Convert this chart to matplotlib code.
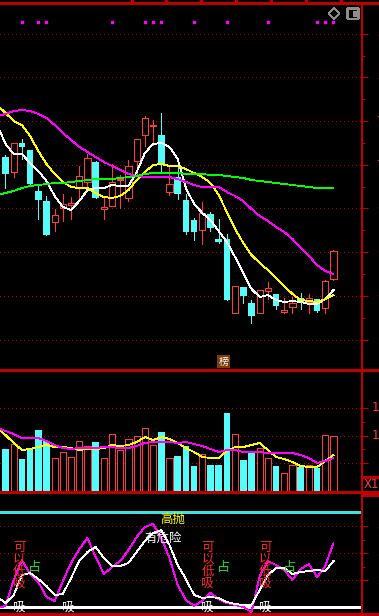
import matplotlib
matplotlib.use("Agg")
import matplotlib.pyplot as plt
from matplotlib.patches import Rectangle, FancyBboxPatch, Polygon
from matplotlib.transforms import blended_transform_factory
import numpy as np

plt.rcParams['font.family'] = ['Noto Sans CJK SC', 'DejaVu Sans']
plt.rcParams['lines.antialiased'] = False
plt.rcParams['patch.antialiased'] = False

# daily candles 1..41
opens = [7.43, 7.28, 7.57, 7.50, 7.09, 6.99, 6.78, 6.92, 6.95, 7.12,
         7.18, 7.38, 6.91, 6.94, 7.20, 7.02, 7.39, 7.65, 7.74, 7.65,
         7.08, 7.23, 7.00, 6.80, 6.70, 6.86, 6.61, 6.61, 5.87, 6.13,
         5.97, 5.87, 6.09, 6.06, 5.88, 5.93, 6.02, 5.98, 6.01, 5.92, 6.21]
highs = [7.45, 7.57, 7.61, 7.50, 7.15, 7.04, 6.91, 7.06, 7.03, 7.34,
         7.46, 7.39, 7.03, 7.36, 7.25, 7.40, 7.61, 7.84, 7.80, 7.87,
         7.33, 7.41, 7.06, 6.82, 6.98, 6.88, 6.81, 6.66, 6.14, 6.13,
         6.00, 6.10, 6.18, 6.06, 6.02, 6.03, 6.07, 6.06, 6.01, 6.20, 6.50]
lows = [7.12, 7.23, 7.41, 7.16, 6.81, 6.65, 6.69, 6.79, 6.81, 7.01,
        7.10, 7.02, 6.81, 6.94, 6.92, 6.99, 7.24, 7.54, 7.55, 7.27,
        7.05, 7.01, 6.66, 6.60, 6.56, 6.69, 6.57, 6.00, 5.87, 5.97,
        5.77, 5.87, 6.01, 5.91, 5.87, 5.87, 5.91, 5.87, 5.88, 5.87, 6.20]
closes = [7.26, 7.57, 7.53, 7.16, 7.00, 6.65, 6.85, 6.96, 6.97, 7.24,
          7.42, 7.02, 6.93, 7.18, 7.21, 7.34, 7.61, 7.82, 7.75, 7.36,
          7.16, 7.06, 6.68, 6.68, 6.87, 6.72, 6.58, 6.00, 6.14, 6.04,
          5.84, 6.10, 6.12, 5.94, 5.90, 5.97, 5.98, 6.02, 5.89, 6.19, 6.49]
volumes = [8400, 9400, 6400, 8600, 12200, 10000, 6600, 7800, 6800, 10000,
           9000, 9800, 6600, 11400, 8200, 10400, 11000, 12600, 9200, 11800,
           6600, 7000, 9000, 5000, 7400, 5200, 5200, 15600, 11400, 6200,
           7600, 8600, 6600, 5000, 3600, 5200, 4800, 5200, 4600, 11200, 11000]

# averages and indicator lines, index 0 = bar just left of the view
ma5 = [7.75, 7.56, 7.46, 7.46, 7.37, 7.29, 7.19, 7.04, 6.93, 6.90, 6.99,
       7.10, 7.12, 7.12, 7.15, 7.14, 7.14, 7.28, 7.47, 7.56, 7.57,
       7.53, 7.41, 7.12, 6.96, 6.87, 6.80, 6.69, 6.58, 6.43, 6.27,
       6.11, 6.03, 6.05, 6.00, 5.98, 5.99, 5.98, 5.96, 5.96, 6.01, 6.10]
ma10 = [7.95, 7.87, 7.79, 7.75, 7.64, 7.49, 7.36, 7.26, 7.18, 7.13, 7.12,
        7.12, 7.07, 7.03, 7.02, 7.04, 7.10, 7.20, 7.28, 7.35, 7.36,
        7.34, 7.34, 7.31, 7.27, 7.23, 7.17, 7.05, 6.88, 6.71, 6.57,
        6.45, 6.37, 6.30, 6.22, 6.14, 6.06, 6.00, 5.99, 5.98, 6.01, 6.05]
ma20 = [7.84, 7.86, 7.89, 7.90, 7.89, 7.86, 7.82, 7.75, 7.67, 7.60, 7.53,
        7.48, 7.43, 7.38, 7.34, 7.30, 7.26, 7.24, 7.23, 7.23, 7.23,
        7.23, 7.21, 7.18, 7.15, 7.13, 7.13, 7.13, 7.08, 7.04, 6.99,
        6.91, 6.84, 6.79, 6.73, 6.68, 6.61, 6.52, 6.44, 6.35, 6.29, 6.26]
ma60 = [7.05, 7.07, 7.09, 7.12, 7.14, 7.15, 7.16, 7.17, 7.17, 7.18, 7.19,
        7.20, 7.21, 7.21, 7.21, 7.22, 7.23, 7.24, 7.26, 7.27, 7.27,
        7.27, 7.27, 7.26, 7.26, 7.26, 7.25, 7.25, 7.24, 7.23, 7.22,
        7.20, 7.19, 7.18, 7.17, 7.16, 7.15, 7.14, 7.13, 7.12, 7.12, 7.12]
vol_ma5 = [12600, 11200, 9600, 8200, 8400, 8800, 9200, 8800, 8800, 8600, 8200,
           8400, 8400, 8600, 9200, 9000, 9200, 9800, 10800, 10200, 10800,
           10400, 9600, 8600, 7800, 6800, 6600, 6600, 8000, 8800, 8800,
           9200, 9600, 8200, 6800, 6400, 5800, 5000, 4800, 4800, 6000, 7200]
vol_ma10 = [12600, 12000, 11400, 10600, 10600, 10600, 10000, 9200, 8600, 8400, 8600,
            8600, 8600, 8800, 8800, 8600, 8600, 9000, 9600, 9800, 9800,
            9800, 9600, 9800, 9400, 9000, 8400, 7800, 8200, 8200, 7800,
            7800, 7800, 7600, 7600, 7600, 7600, 7200, 6600, 5600, 6000, 6600]
k_line = [-1, 1, 27, 47, 33, 25, 10, 6, 26, 44, 58,
          69, 50, 33, 40, 46, 57, 70, 80, 83, 69,
          49, 22, 7, 1, 6, 14, 8, 4, 2, 0,
          -5, 31, 46, 42, 37, 27, 38, 43, 30, 41, 64]
d_line = [10, 4, 12, 32, 34, 28, 21, 12, 13, 29, 46,
          55, 60, 49, 41, 41, 44, 55, 66, 74, 77,
          62, 42, 28, 12, 9, 10, 9, 5, 3, 2,
          2, 17, 32, 39, 39, 33, 35, 36, 37, 36, 46]

signal_dots = [3, 5, 6, 14, 18, 19, 20, 24, 28, 33, 39, 40, 41]
buy_days = [2, 25, 32]
xi_days = [2, 8, 25, 32]
zhan_days = [4, 27, 35]
high_day = 20
danger_day = 18

price_ticks = [5.60, 6.04, 6.48, 6.92, 7.35, 7.79, 8.23, 8.66]
vol_ticks = [5550, 11100, 16650]
ind_ticks = [27, 54, 81]

RED = '#ff3c3c'
CYAN = '#54fcfc'
GRID = '#b40000'
BORDER = '#c00000'
W, H = 379, 616
LW = 0.72  # one pixel
MLW = 0.6  # average lines


def px_rect(x0, y0, x1, y1):
    return [x0 / W, 1 - y1 / H, (x1 - x0) / W, (y1 - y0) / H]


fig = plt.figure(figsize=(W / 100, H / 100), dpi=100, facecolor='black')
ax_p = fig.add_axes(px_rect(0, 3, 362, 370))
ax_v = fig.add_axes(px_rect(0, 370, 362, 492))
ax_i = fig.add_axes(px_rect(0, 492, 362, 614))

days = np.arange(1, len(opens) + 1)
line_x = np.arange(0, len(ma5))
up = [c >= o for o, c in zip(opens, closes)]
edge = [RED if u else CYAN for u in up]


def setup(ax, ylim, ticks, labels, label_x):
    ax.set_facecolor('black')
    ax.set_xlim(0.33, 44.48)
    ax.set_ylim(*ylim)
    for s in ax.spines.values():
        s.set_visible(False)
    ax.set_xticks([])
    ax.yaxis.set_ticks_position('right')
    ax.set_yticks(ticks)
    mids = [(a + b) / 2 for a, b in zip(ticks[:-1], ticks[1:])]
    ax.set_yticks(mids, minor=True)
    ax.tick_params(axis='y', which='major', length=4.3, width=LW, color=BORDER,
                   labelright=False, labelleft=False)
    ax.tick_params(axis='y', which='minor', length=2.5, width=LW, color=BORDER)
    for t in ticks:
        ax.axhline(t, color=GRID, lw=LW, ls=(0, (1, 3)), zorder=1)
    tr = blended_transform_factory(ax.transAxes, ax.transData)
    for t, lab in zip(ticks, labels):
        ax.text(label_x / 362, t, lab, transform=tr, color=RED, fontsize=8.6,
                family='DejaVu Sans', ha='left', va='center', clip_on=False)


setup(ax_p, (5.30, 8.97), price_ticks, [f'{t:.2f}' for t in price_ticks], 377.5)
setup(ax_v, (-200, 24200), vol_ticks, ['', '11100', '16650'], 372)
setup(ax_i, (-7, 115), ind_ticks, [f'{t:.1f}' for t in ind_ticks], 377.5)


def draw_bodies(ax, x, lo, hi):
    # up days: hollow red box, down days: filled cyan
    for xi, a, b, u in zip(x, lo, hi, up):
        h = max(b - a, (ax.get_ylim()[1] - ax.get_ylim()[0]) * 0.003)
        if u:
            ax.add_patch(Rectangle((xi - 0.38, a), 0.76, h, facecolor='black',
                                   edgecolor=RED, lw=LW, zorder=3))
        else:
            ax.add_patch(Rectangle((xi - 0.41, a), 0.82, h, facecolor=CYAN,
                                   edgecolor='none', zorder=3))


# candles
ax_p.vlines(days, lows, highs, colors=edge, lw=LW, zorder=2)
draw_bodies(ax_p, days, [min(o, c) for o, c in zip(opens, closes)],
            [max(o, c) for o, c in zip(opens, closes)])
ax_p.plot(line_x, ma5, color='white', lw=MLW, zorder=4)
ax_p.plot(line_x, ma10, color='#ffff00', lw=MLW, zorder=4)
ax_p.plot(line_x, ma20, color='#ff00ff', lw=MLW, zorder=4)
ax_p.plot(line_x, ma60, color='#00ff00', lw=MLW, zorder=4)
ax_p.plot(signal_dots, [8.78] * len(signal_dots), ls='none', marker='s',
          ms=1.6, color='#ff00ff', mec='#ff00ff')

# volume
draw_bodies(ax_v, days, [0] * len(volumes), volumes)
ax_v.plot(line_x, vol_ma5, color='#ffff00', lw=MLW, zorder=4)
ax_v.plot(line_x, vol_ma10, color='#ff00ff', lw=MLW, zorder=4)

# indicator
ax_i.axhline(95, color='#40e0e0', lw=1, zorder=2)
ax_i.axhline(0, color='white', lw=1, zorder=2)
ax_i.plot(line_x, k_line, color='#ff00ff', lw=MLW, zorder=4)
ax_i.plot(line_x, d_line, color='white', lw=MLW, zorder=4)
for d in buy_days:
    for k, ch in enumerate('可以低吸'):
        ax_i.text(d - 0.1, 60 - 12 * k, ch, color='#ff2828', fontsize=9,
                  ha='left', va='center', zorder=5)
for d in xi_days:
    ax_i.text(d - 0.1, -0.5, '吸', color='white', fontsize=9,
              ha='left', va='center', zorder=5)
for d in zhan_days:
    ax_i.text(d - 0.2, 39, '占', color='#22dd22', fontsize=9.5,
              ha='left', va='center', zorder=5)
ax_i.text(high_day - 0.1, 88, '高抛', color='#ffff00', fontsize=9,
          ha='left', va='center', zorder=5)
ax_i.text(danger_day - 0.1, 68, '有危险', color='white', fontsize=9,
          ha='left', va='center', zorder=5)

# frame and decorations in pixel space
ov = fig.add_axes([0, 0, 1, 1], zorder=10)
ov.set_xlim(0, W)
ov.set_ylim(H, 0)
ov.axis('off')
ov.hlines([3, 370, 492, 614], 0, W, color=BORDER, lw=1)
ov.vlines(362, 3, H, color=BORDER, lw=1.4)
ov.vlines([132, 166, 201, 236, 271, 306, 341], 0, 3, color=BORDER, lw=1)
ov.hlines(477, 362, W, color=BORDER, lw=1)
ov.hlines(494.5, 362, W, color=BORDER, lw=1)
ov.text(364, 485, 'X1', color=RED, fontsize=8.5, family='DejaVu Sans',
        ha='left', va='center')
ov.text(223.5, 361.5, '榜', color='white', fontsize=7.2, ha='center', va='center',
        bbox=dict(boxstyle='square,pad=0.12', fc='#7a3d0a', ec='none'))
ov.add_patch(Polygon([(334, 8), (339.5, 13.5), (334, 19), (328.5, 13.5)],
                     closed=True, fill=False, ec='#8c8c8c', lw=0.8))
ov.add_patch(FancyBboxPatch((347.5, 8.5), 11, 10.5,
                            boxstyle='round,pad=0,rounding_size=1.5',
                            fc='none', ec='#8c8c8c', lw=1))
ov.add_patch(Rectangle((352.5, 10.5), 4, 6.5, fc='#8c8c8c', ec='none'))

fig.savefig('out.png', dpi=100, facecolor='black')
